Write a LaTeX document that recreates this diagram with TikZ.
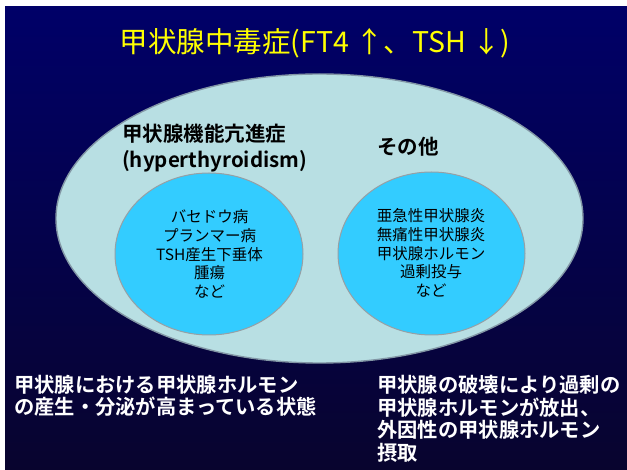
\documentclass[tikz,border=0pt]{standalone}
\usepackage{fontspec}
\setmainfont{Noto Sans CJK JP}[BoldFont={Noto Sans CJK JP Bold}]
\usetikzlibrary{shapes.geometric}
\definecolor{navytop}{RGB}{0,0,104}
\definecolor{navybot}{RGB}{8,4,46}
\definecolor{outerfill}{RGB}{184,223,227}
\definecolor{outerline}{RGB}{130,150,165}
\definecolor{innerfill}{RGB}{51,204,255}
\definecolor{innerline}{RGB}{150,160,165}
\definecolor{titleyellow}{RGB}{255,255,0}
\tikzset{
  outerell/.style={ellipse, fill=outerfill, draw=outerline, line width=1.4pt, inner sep=0pt},
  innerell/.style={ellipse, fill=innerfill, draw=innerline, line width=1pt, inner sep=0pt},
  listtext/.style={align=center, font=\fontsize{15.5}{18.7}\selectfont, text=black, inner sep=0pt},
  headtext/.style={align=left, font=\fontsize{20.5}{26}\selectfont\bfseries, text=black, inner sep=0pt},
  bottomtext/.style={align=left, font=\fontsize{20.3}{22.5}\selectfont\bfseries, text=white, inner sep=0pt},
  titletext/.style={font=\fontsize{28.5}{32}\selectfont, text=titleyellow, inner sep=0pt}
}
\begin{document}
\begin{tikzpicture}[x=1pt,y=-1pt]
\useasboundingbox (0,0) rectangle (627,470);
\fill[white] (0,0) rectangle (627,470);
\shade[top color=navytop, bottom color=navybot] (5,7) rectangle (627,470);
\node[titletext] (title) at (315,43) {甲状腺中毒症(FT4 ↑、TSH ↓)};
\node[outerell, minimum width=527pt, minimum height=289pt] (outer) at (319.5,218.5) {};
\node[innerell, minimum width=188pt, minimum height=162pt] (left) at (209,254) {};
\node[innerell, minimum width=187pt, minimum height=163pt] (right) at (431.5,253.5) {};
\node[headtext, anchor=west] (hyper) at (122,148) {甲状腺機能亢進症\\(hyperthyroidism)};
\node[headtext] (other) at (408,147) {その他};
\node[listtext] (leftlist) at (209.5,254) {バセドウ病\\プランマー病\\TSH産生下垂体\\腫瘍\\など};
\node[listtext] (rightlist) at (431,253) {亜急性甲状腺炎\\無痛性甲状腺炎\\甲状腺ホルモン\\過剰投与\\など};
\node[bottomtext, anchor=west] (botleft) at (14,396) {甲状腺における甲状腺ホルモン\\の産生・分泌が高まっている状態};
\node[bottomtext, anchor=west] (botright) at (377,419) {甲状腺の破壊により過剰の\\甲状腺ホルモンが放出、\\外因性の甲状腺ホルモン\\摂取};
\end{tikzpicture}
\end{document}
